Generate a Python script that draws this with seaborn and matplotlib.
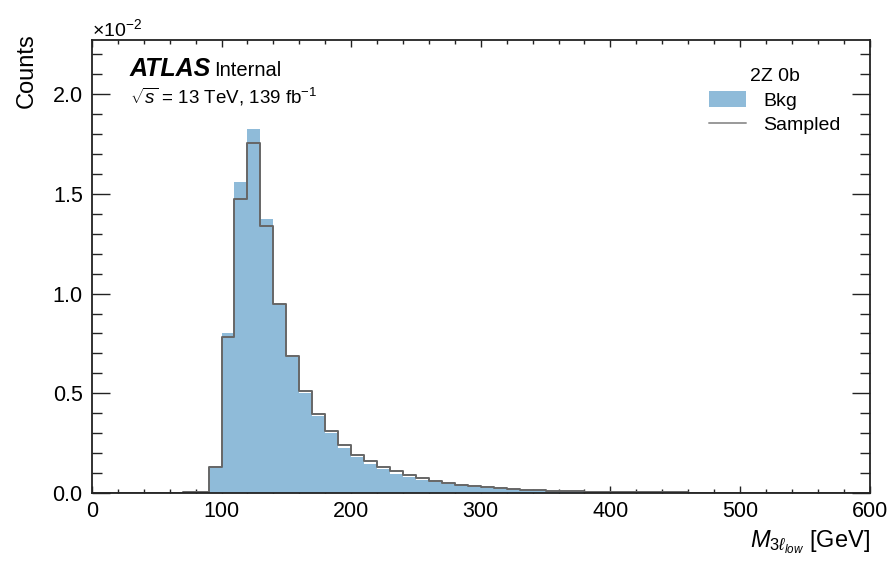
import numpy as np
import pandas as pd
import matplotlib
matplotlib.use('Agg')
import matplotlib.pyplot as plt
import seaborn as sns
from matplotlib.patches import Patch
from matplotlib.lines import Line2D
from matplotlib.ticker import MultipleLocator, ScalarFormatter

# 10 GeV bins from 0 to 600, values in units of 1e-2
bin_edges = np.arange(0, 610, 10)
bin_centers = bin_edges[:-1] + 5

bkg = [0.0] * 8 + [
    0.002, 0.133, 0.80, 1.56, 1.825, 1.375, 0.947, 0.683, 0.50, 0.387,
    0.30, 0.228, 0.18, 0.147, 0.12, 0.095, 0.08, 0.067, 0.057, 0.046,
    0.038, 0.032, 0.027, 0.022, 0.018, 0.015, 0.013, 0.011, 0.009, 0.008,
    0.007, 0.006, 0.005, 0.0045, 0.004, 0.0035, 0.003, 0.0027, 0.0024, 0.0021,
    0.0019, 0.0017, 0.0015, 0.0013, 0.0012, 0.0011, 0.001, 0.0009, 0.0008, 0.0007,
    0.0006, 0.0005]
sampled = [0.0] * 7 + [
    0.003, 0.005, 0.13, 0.78, 1.475, 1.753, 1.337, 0.947, 0.687, 0.513, 0.397,
    0.31, 0.241, 0.19, 0.158, 0.13, 0.108, 0.088, 0.073, 0.062, 0.05,
    0.042, 0.035, 0.03, 0.025, 0.02, 0.017, 0.014, 0.012, 0.010, 0.008,
    0.007, 0.006, 0.005, 0.0045, 0.004, 0.0035, 0.003, 0.0027, 0.0024, 0.0021,
    0.0019, 0.0017, 0.0015, 0.0013, 0.0012, 0.0011, 0.001, 0.0009, 0.0008, 0.0007,
    0.0006, 0.0005]

df = pd.DataFrame({'m3l': bin_centers,
                   'bkg': np.array(bkg) * 1e-2,
                   'sampled': np.array(sampled) * 1e-2})
edges = [float(e) for e in bin_edges]

sns.set_theme(style='ticks')
plt.rcParams['font.family'] = ['Liberation Sans', 'DejaVu Sans']
plt.rcParams['mathtext.fontset'] = 'custom'
plt.rcParams['mathtext.rm'] = 'Liberation Sans'
plt.rcParams['mathtext.it'] = 'Liberation Sans:italic'
plt.rcParams['mathtext.bf'] = 'Liberation Sans:bold'
for k in ['text.color', 'axes.labelcolor', 'xtick.color', 'ytick.color', 'axes.edgecolor']:
    plt.rcParams[k] = 'black'

fill_col = '#8fbbd9'
line_col = '#666666'

fig = plt.figure(figsize=(8.92, 5.67), dpi=100)
ax = fig.add_axes([0.103, 0.1305, 0.872, 0.7985])

sns.histplot(data=df, x='m3l', weights='bkg', bins=edges,
             element='bars', color=fill_col, alpha=1.0, linewidth=0, ax=ax)
sns.histplot(data=df, x='m3l', weights='sampled', bins=edges,
             element='step', fill=False, color=line_col, linewidth=1.4, ax=ax)

ax.set_xlim(0, 600)
ax.set_ylim(0, 2.27e-2)

ax.xaxis.set_major_locator(MultipleLocator(100))
ax.xaxis.set_minor_locator(MultipleLocator(20))
ax.yaxis.set_major_locator(MultipleLocator(0.5e-2))
ax.yaxis.set_minor_locator(MultipleLocator(0.1e-2))
fmt = ScalarFormatter(useMathText=True)
fmt.set_powerlimits((-1, 1))
ax.yaxis.set_major_formatter(fmt)
ax.yaxis.get_offset_text().set_fontsize(14)

ax.tick_params(which='both', direction='in', top=True, right=True, color='#222222')
ax.tick_params(axis='x', which='major', length=5, width=1, labelsize=15.5, pad=6)
ax.tick_params(axis='x', which='minor', length=3, width=1)
ax.tick_params(axis='y', which='major', length=13, width=1, labelsize=15.5, pad=6)
ax.tick_params(axis='y', which='minor', length=7, width=1)
for sp in ax.spines.values():
    sp.set_linewidth(1.3)
    sp.set_color('#222222')

ax.set_xlabel(r'$M_{3\ell_{low}}$ [GeV]', loc='right', fontsize=17)
ax.set_ylabel('Counts', loc='top', fontsize=17)
ax.yaxis.set_label_coords(-0.07, 1.015)

ax.text(0.049, 0.92, 'ATLAS', transform=ax.transAxes, fontsize=18,
        fontweight='bold', fontstyle='italic')
ax.text(0.157, 0.92, 'Internal', transform=ax.transAxes, fontsize=14.5)
ax.text(0.049, 0.861, r'$\sqrt{s}$ = 13 TeV, 139 fb$^{-1}$', transform=ax.transAxes,
        fontsize=13.5)

handles = [Patch(facecolor=fill_col, edgecolor='none'),
           Line2D([0], [0], color='#999999', linewidth=1.4)]
ax.legend(handles, ['Bkg', 'Sampled'], title='2Z 0b', frameon=False,
          loc='upper right', bbox_to_anchor=(0.985, 0.977), fontsize=14,
          title_fontsize=14, handlelength=1.9, handleheight=0.9,
          handletextpad=0.9, labelspacing=0.3)

fig.savefig('out.png', dpi=100)
